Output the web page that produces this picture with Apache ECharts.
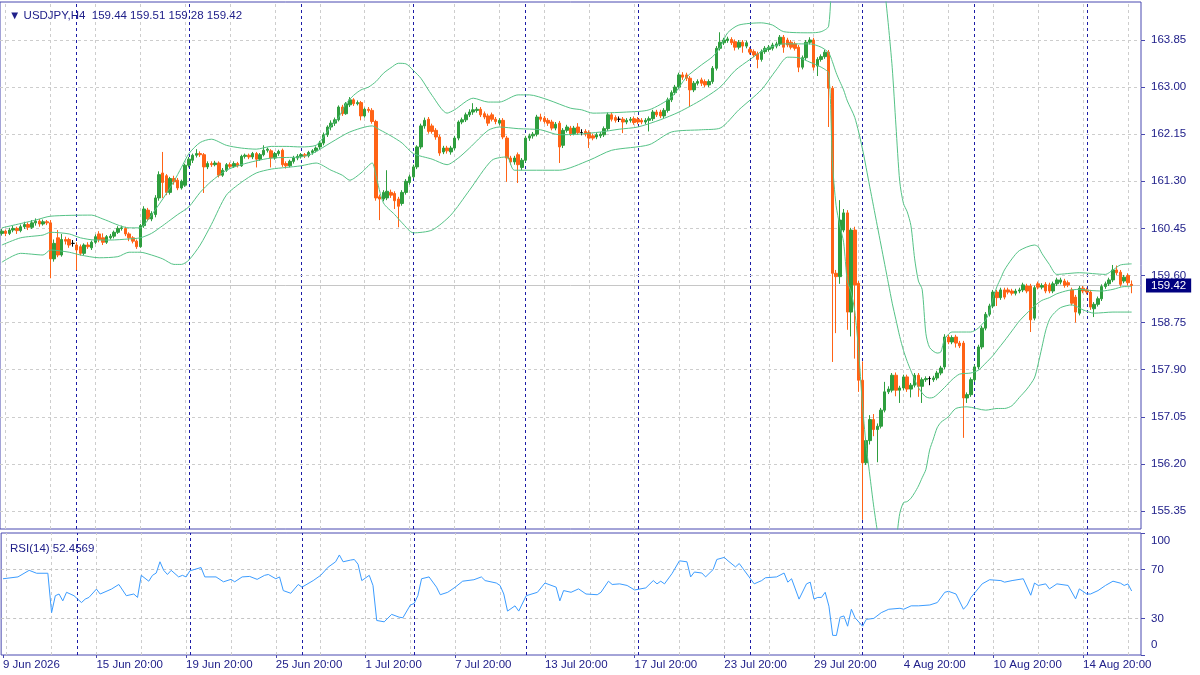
<!DOCTYPE html>
<html>
<head>
<meta charset="utf-8">
<title>USDJPY H4</title>
<script src="https://cdn.jsdelivr.net/npm/echarts@6/dist/echarts.min.js"></script>
<style>
html, body { margin: 0; padding: 0; background: #fff; }
#chart { width: 1200px; height: 675px; }
</style>
</head>
<body>
<div id="chart"></div>
<script>
// USDJPY H4 candles, oldest first
const opens = [
  160.36,160.40,160.36,160.42,160.45,160.41,160.48,160.52,160.47,160.55,
  160.58,160.53,160.57,160.55,159.90,160.28,159.97,160.25,160.25,160.18,
  160.15,160.12,160.00,160.15,160.10,160.20,160.35,160.28,160.20,160.28,
  160.31,160.38,160.45,160.45,160.35,160.28,160.22,160.12,160.50,160.78,
  160.62,160.70,161.00,161.45,161.40,161.10,161.35,161.32,161.18,161.23,
  161.59,161.68,161.77,161.80,161.78,161.56,161.62,161.60,161.63,161.41,
  161.50,161.60,161.57,161.62,161.58,161.75,161.77,161.74,161.80,161.70,
  161.78,161.86,161.85,161.72,161.80,161.86,161.62,161.58,161.66,161.72,
  161.75,161.78,161.76,161.82,161.85,161.92,161.99,162.14,162.28,162.35,
  162.41,162.64,162.52,162.68,162.77,162.70,162.72,162.48,162.60,162.58,
  162.38,161.02,160.98,161.00,161.10,161.08,160.98,160.90,161.10,161.28,
  161.38,161.56,161.92,162.30,162.42,162.30,162.22,162.10,161.83,161.90,
  161.83,161.90,162.08,162.37,162.41,162.50,162.55,162.58,162.60,162.52,
  162.48,162.50,162.42,162.35,162.40,162.08,161.72,161.65,161.78,161.55,
  161.68,162.08,162.12,162.15,162.46,162.44,162.40,162.37,162.26,162.35,
  161.95,162.22,162.26,162.16,162.28,162.18,162.20,162.18,162.12,162.10,
  162.12,162.14,162.25,162.50,162.45,162.42,162.42,162.37,162.40,162.43,
  162.42,162.40,162.37,162.40,162.43,162.55,162.55,162.48,162.58,162.77,
  162.90,163.00,163.22,163.22,163.16,162.95,163.07,163.13,163.10,163.04,
  163.10,163.34,163.70,163.80,163.84,163.86,163.82,163.72,163.81,163.74,
  163.68,163.64,163.60,163.50,163.64,163.68,163.70,163.74,163.78,163.90,
  163.85,163.81,163.78,163.72,163.36,163.53,163.81,163.85,163.38,163.50,
  163.55,163.63,162.98,159.64,159.58,160.42,160.73,158.94,160.42,159.46,
  157.71,156.22,156.62,157.00,156.82,156.88,157.17,157.50,157.53,157.80,
  157.53,157.57,157.77,157.55,157.62,157.80,157.60,157.72,157.74,157.72,
  157.75,157.84,157.95,158.49,158.40,158.49,158.38,158.38,157.39,157.45,
  157.72,157.95,158.31,158.65,158.90,159.05,159.30,159.20,159.34,159.34,
  159.32,159.28,159.32,159.34,159.41,159.41,158.83,159.45,159.39,159.44,
  159.43,159.32,159.45,159.48,159.50,159.47,159.34,159.21,158.92,159.37,
  159.34,159.30,159.00,159.08,159.18,159.40,159.45,159.52,159.70,159.66,
  159.50,159.60,159.44
];
const closes = [
  160.40,160.36,160.42,160.45,160.41,160.48,160.52,160.47,160.55,160.58,
  160.53,160.57,160.55,159.90,160.18,159.97,160.25,160.22,160.15,160.18,
  160.06,160.00,160.15,160.12,160.20,160.30,160.25,160.20,160.30,160.31,
  160.38,160.45,160.46,160.35,160.28,160.22,160.12,160.50,160.80,160.62,
  160.72,161.00,161.42,161.28,161.10,161.35,161.29,161.18,161.30,161.59,
  161.70,161.77,161.80,161.78,161.56,161.62,161.60,161.63,161.41,161.50,
  161.60,161.57,161.62,161.58,161.75,161.77,161.74,161.80,161.70,161.78,
  161.86,161.88,161.72,161.80,161.84,161.60,161.58,161.66,161.72,161.75,
  161.78,161.76,161.82,161.85,161.90,161.99,162.14,162.28,162.35,162.41,
  162.64,162.52,162.70,162.77,162.70,162.72,162.48,162.60,162.58,162.38,
  161.00,160.98,161.10,161.12,161.05,160.95,160.85,161.10,161.30,161.38,
  161.56,161.92,162.30,162.40,162.20,162.20,162.10,161.81,161.90,161.85,
  161.90,162.08,162.37,162.41,162.50,162.55,162.59,162.60,162.50,162.46,
  162.35,162.42,162.38,162.40,162.10,161.72,161.65,161.72,161.60,161.68,
  162.08,162.12,162.15,162.46,162.42,162.38,162.35,162.26,162.33,161.92,
  162.22,162.28,162.16,162.26,162.18,162.18,162.15,162.08,162.08,162.14,
  162.15,162.25,162.50,162.42,162.40,162.42,162.37,162.40,162.42,162.36,
  162.37,162.37,162.40,162.43,162.55,162.50,162.48,162.58,162.77,162.90,
  163.00,163.22,163.18,163.16,162.95,163.07,163.10,163.07,163.04,163.10,
  163.34,163.70,163.81,163.85,163.87,163.80,163.72,163.81,163.74,163.80,
  163.63,163.58,163.50,163.64,163.70,163.72,163.76,163.78,163.90,163.72,
  163.76,163.72,163.70,163.36,163.53,163.81,163.85,163.36,163.50,163.55,
  163.63,162.98,159.64,159.58,160.60,160.73,158.94,160.42,159.43,157.71,
  156.22,156.62,157.00,156.82,156.88,157.17,157.50,157.55,157.80,157.53,
  157.57,157.77,157.55,157.62,157.80,157.60,157.72,157.74,157.74,157.75,
  157.84,157.93,158.49,158.40,158.48,158.38,158.33,157.39,157.45,157.72,
  157.95,158.31,158.65,158.90,159.05,159.30,159.20,159.34,159.21,159.30,
  159.28,159.32,159.34,159.43,159.32,158.80,159.38,159.39,159.42,159.32,
  159.32,159.45,159.52,159.52,159.42,159.43,159.10,158.94,159.37,159.32,
  159.30,159.03,159.08,159.18,159.40,159.45,159.52,159.70,159.65,159.44,
  159.57,159.47,159.42
];
const lows = [
  160.32,160.31,160.33,160.38,160.35,160.38,160.44,160.42,160.44,160.50,
  160.48,160.50,160.51,159.55,159.85,159.93,159.94,160.16,160.10,160.12,
  159.70,159.96,159.97,160.08,160.06,160.17,160.20,160.15,160.17,160.25,
  160.27,160.35,160.41,160.31,160.22,160.18,160.08,160.10,160.46,160.58,
  160.58,160.65,160.95,161.00,161.05,161.06,161.24,161.14,161.15,161.20,
  161.55,161.63,161.73,161.74,161.09,161.52,161.56,161.57,161.37,161.38,
  161.47,161.53,161.54,161.55,161.56,161.71,161.70,161.70,161.55,161.67,
  161.75,161.82,161.55,161.69,161.76,161.56,161.53,161.55,161.62,161.68,
  161.71,161.72,161.73,161.78,161.82,161.88,161.95,162.10,162.22,162.30,
  162.38,162.48,162.50,162.64,162.66,162.67,162.40,162.45,162.54,162.34,
  160.95,160.60,160.94,160.96,161.00,160.80,160.47,160.86,161.06,161.24,
  161.35,161.52,161.88,162.25,162.16,162.16,162.05,161.76,161.79,161.80,
  161.78,161.86,162.04,162.33,162.37,162.46,162.50,162.54,162.46,162.42,
  162.30,162.38,162.33,162.31,162.06,161.29,161.60,161.60,161.27,161.50,
  161.64,162.03,162.07,162.11,162.38,162.34,162.30,162.22,162.22,161.63,
  161.90,162.18,162.12,162.13,162.14,162.13,162.11,161.90,162.04,162.06,
  162.08,162.10,162.21,162.38,162.36,162.37,162.17,162.33,162.36,162.32,
  162.33,162.33,162.33,162.20,162.39,162.46,162.44,162.44,162.54,162.73,
  162.86,162.96,163.13,163.11,162.64,162.91,163.03,163.02,163.00,163.00,
  163.06,163.30,163.66,163.76,163.80,163.76,163.66,163.68,163.62,163.70,
  163.59,163.54,163.34,163.46,163.60,163.64,163.66,163.70,163.74,163.62,
  163.72,163.68,163.66,163.27,163.32,163.49,163.77,163.30,163.20,163.46,
  163.51,162.28,158.04,158.56,159.45,160.38,158.62,158.50,158.10,157.50,
  155.19,156.18,156.55,156.70,156.23,156.84,157.13,157.46,157.49,157.42,
  157.30,157.53,157.50,157.40,157.58,157.41,157.30,157.68,157.62,157.68,
  157.71,157.80,157.91,158.36,158.36,158.30,158.29,156.67,157.30,157.41,
  157.68,157.91,158.27,158.61,158.86,159.01,159.05,159.16,159.17,159.26,
  159.24,159.24,159.28,159.30,159.28,158.58,158.79,159.35,159.35,159.28,
  159.28,159.28,159.41,159.44,159.38,159.39,159.06,158.75,158.88,159.28,
  159.26,158.98,158.85,159.04,159.14,159.36,159.41,159.48,159.61,159.40,
  159.46,159.42,159.28
];
const highs = [
  160.44,160.43,160.46,160.50,160.48,160.52,160.57,160.56,160.60,160.63,
  160.62,160.61,160.60,160.60,160.25,160.42,160.35,160.30,160.28,160.24,
  160.20,160.16,160.18,160.20,160.23,160.34,160.40,160.36,160.33,160.35,
  160.41,160.49,160.50,160.48,160.38,160.31,160.25,160.53,160.85,160.82,
  160.76,161.05,161.48,161.83,161.43,161.38,161.40,161.36,161.33,161.62,
  161.74,161.80,161.88,161.84,161.81,161.66,161.66,161.67,161.66,161.54,
  161.63,161.64,161.66,161.65,161.78,161.80,161.80,161.83,161.83,161.81,
  161.95,161.91,161.88,161.83,161.87,161.89,161.66,161.69,161.76,161.79,
  161.81,161.81,161.85,161.88,161.93,162.03,162.18,162.31,162.40,162.45,
  162.67,162.68,162.73,162.82,162.80,162.76,162.75,162.63,162.64,162.62,
  162.41,161.06,161.14,161.50,161.15,161.12,161.02,161.14,161.34,161.42,
  161.60,161.95,162.34,162.45,162.46,162.34,162.26,162.14,161.94,161.94,
  161.94,162.12,162.40,162.45,162.54,162.60,162.71,162.64,162.64,162.56,
  162.52,162.54,162.46,162.44,162.44,162.12,161.76,161.76,161.82,161.72,
  162.12,162.16,162.19,162.50,162.52,162.48,162.44,162.41,162.37,162.39,
  162.26,162.32,162.30,162.30,162.35,162.24,162.24,162.22,162.16,162.18,
  162.19,162.29,162.54,162.54,162.49,162.47,162.46,162.44,162.46,162.47,
  162.46,162.44,162.44,162.47,162.59,162.59,162.59,162.62,162.81,162.94,
  163.04,163.26,163.27,163.26,163.20,163.11,163.14,163.17,163.14,163.14,
  163.38,163.74,163.99,163.89,163.91,163.90,163.86,163.85,163.85,163.84,
  163.72,163.68,163.64,163.68,163.74,163.76,163.80,163.82,163.94,163.94,
  163.89,163.85,163.82,163.76,163.57,163.85,163.90,163.89,163.54,163.59,
  163.67,163.67,163.02,159.70,160.96,160.80,160.78,160.46,160.48,159.50,
  158.05,156.66,157.08,157.10,156.93,157.21,157.68,157.60,157.84,157.85,
  157.61,157.81,157.81,157.66,157.84,157.84,157.76,157.78,157.78,157.79,
  157.88,157.97,158.54,158.53,158.52,158.53,158.42,158.42,157.49,157.76,
  157.99,158.35,158.69,158.94,159.09,159.34,159.34,159.38,159.38,159.38,
  159.36,159.36,159.38,159.47,159.45,159.45,159.42,159.49,159.46,159.48,
  159.47,159.49,159.56,159.56,159.54,159.51,159.38,159.25,159.41,159.41,
  159.38,159.34,159.12,159.22,159.44,159.49,159.56,159.79,159.78,159.70,
  159.61,159.64,159.51
];

// Bollinger Bands, [bar index, price] at the bends of each curve
const bbUpper = [
  [0,160.46],[9,160.60],[13,160.67],[24,160.69],[27,160.62],[34,160.46],[37,160.46],[39,160.60],
  [43,160.98],[46,161.30],[48,161.55],[50,161.80],[53,162.00],[56,162.06],[60,161.95],[64,161.90],
  [68,161.88],[72,161.93],[76,161.93],[80,161.92],[84,161.95],[86,162.10],[88,162.30],[90,162.45],
  [92,162.70],[94,162.85],[96,162.95],[98,163.00],[100,163.10],[102,163.25],[104,163.35],[106,163.43],
  [108,163.42],[110,163.30],[112,163.16],[115,162.85],[119,162.53],[121,162.59],[126,162.80],[130,162.73],
  [133,162.73],[138,162.86],[141,162.86],[146,162.77],[152,162.62],[155,162.59],[158,162.53],[167,162.55],
  [173,162.59],[179,162.82],[183,163.18],[187,163.40],[190,163.55],[192,163.72],[194,163.98],[197,164.12],
  [203,164.16],[206,164.12],[209,164.00],[216,163.98],[219,164.00],[221,164.10],[222,165.30],[223,165.70],
  [226,165.90],[229,165.90],[230,166.10],[231,166.15],[233,165.90],[234,165.60],[235,165.25],[236,164.75],
  [237,164.10],[238,163.35],[239,162.30],[240,161.30],[241,160.90],[242,160.75],[243,160.50],[244,159.90],
  [245,159.50],[246,159.35],[247,158.55],[248,158.30],[250,158.20],[251,158.22],[252,158.45],[254,158.58],
  [259,158.58],[261,158.65],[263,158.80],[264,158.95],[265,159.20],[266,159.40],[267,159.55],[268,159.70],
  [270,159.90],[272,160.05],[276,160.15],[277,160.12],[278,160.00],[280,159.80],[282,159.62],[288,159.65],
  [295,159.62],[297,159.70],[299,159.79],[302,159.81]
];
const bbMiddle = [
  [0,160.15],[5,160.28],[11,160.33],[13,160.38],[18,160.35],[21,160.28],[25,160.24],[29,160.24],
  [34,160.26],[37,160.28],[40,160.36],[43,160.50],[45,160.60],[47,160.70],[50,160.84],[53,161.10],
  [56,161.30],[60,161.50],[64,161.60],[68,161.67],[72,161.72],[76,161.73],[80,161.74],[83,161.80],
  [88,162.00],[93,162.19],[99,162.30],[101,162.23],[104,162.12],[107,161.99],[110,161.80],[115,161.70],
  [119,161.60],[122,161.72],[125,161.90],[130,162.22],[133,162.28],[138,162.25],[144,162.23],[149,162.14],
  [154,162.15],[160,162.19],[165,162.24],[170,162.28],[176,162.41],[181,162.55],[187,162.77],[192,163.00],
  [196,163.30],[200,163.50],[204,163.68],[209,163.78],[213,163.78],[216,163.78],[219,163.72],[221,163.62],
  [222,163.46],[223,163.26],[224,163.10],[225,162.95],[226,162.75],[228,162.45],[230,161.90],[232,161.20],
  [233,160.85],[234,160.50],[235,160.15],[236,159.80],[237,159.45],[238,159.10],[239,158.80],[240,158.50],
  [241,158.25],[242,158.05],[243,157.88],[244,157.72],[245,157.58],[246,157.48],[247,157.41],[248,157.39],
  [249,157.40],[250,157.45],[252,157.58],[254,157.72],[256,157.82],[259,157.84],[261,157.89],[263,158.02],
  [265,158.16],[266,158.25],[268,158.42],[270,158.60],[272,158.78],[274,158.92],[276,159.05],[278,159.15],
  [280,159.20],[282,159.27],[285,159.33],[288,159.35],[291,159.33],[294,159.32],[297,159.35],[300,159.40],
  [302,159.40]
];
const bbLower = [
  [0,159.84],[5,160.00],[11,159.97],[13,160.06],[18,160.02],[21,159.97],[26,159.92],[31,159.94],
  [34,160.02],[37,160.02],[40,159.97],[43,159.90],[46,159.80],[48,159.80],[50,159.88],[53,160.15],
  [56,160.52],[60,161.05],[64,161.28],[68,161.45],[72,161.52],[76,161.55],[80,161.58],[84,161.63],
  [88,161.50],[91,161.41],[93,161.32],[96,161.45],[99,161.63],[100,161.40],[102,160.91],[105,160.70],
  [107,160.55],[110,160.37],[115,160.42],[120,160.69],[125,161.14],[131,161.68],[135,161.74],[137,161.50],
  [149,161.50],[157,161.68],[163,161.86],[173,161.96],[179,162.19],[187,162.23],[192,162.26],[197,162.59],
  [203,162.95],[207,163.31],[210,163.54],[213,163.53],[216,163.45],[219,163.36],[221,163.25],[222,161.66],
  [223,160.86],[224,160.50],[225,160.20],[226,159.50],[227,159.30],[228,158.95],[229,158.25],[230,157.30],
  [231,156.55],[232,156.00],[233,155.46],[234,155.00],[235,154.65],[236,154.47],[237,154.50],[238,154.60],
  [239,154.80],[240,155.30],[241,155.50],[242,155.52],[243,155.58],[244,155.68],[245,155.80],[246,155.95],
  [247,156.10],[248,156.45],[249,156.65],[250,156.85],[251,156.95],[252,157.00],[253,157.05],[255,157.20],
  [258,157.23],[263,157.17],[266,157.20],[268,157.20],[270,157.25],[272,157.40],[274,157.55],[276,157.75],
  [277,158.00],[278,158.30],[279,158.60],[280,158.80],[281,158.90],[283,159.02],[286,159.07],[289,158.98],
  [292,158.92],[297,158.94],[302,158.94]
];

// RSI(14), [bar index, value]
const rsiPts = [
  [0,62.5],[4,64],[7,69.4],[9,67],[12,67],[13,34.7],[14,48.6],[15,50],[16,44.4],[17,51.4],
  [19,48.6],[20,45.8],[21,43],[22,45.8],[23,47.2],[25,54],[26,50],[29,54],[31,57.8],[33,48.6],
  [35,50],[36,47.2],[37,65.3],[39,60.5],[40,65.3],[41,67.2],[42,76.4],[43,69.4],[44,66],[45,69.4],
  [47,64],[48,65.3],[49,64],[50,69],[53,71.7],[54,64],[57,64],[59,60],[61,62],[62,60],
  [64,64],[66,64.4],[68,62],[70,65.3],[71,66],[73,62.5],[74,64],[75,52.8],[77,50.6],[79,57.8],
  [80,55.6],[83,61],[85,65.3],[87,72],[89,76.4],[90,82],[91,76.4],[93,77.8],[94,78.3],[95,74.4],
  [96,61],[98,65.3],[99,57],[100,28.3],[102,27.2],[104,33.3],[106,31],[107,30.5],[109,41],[110,42.2],
  [111,48.6],[112,62.5],[114,64],[116,55.6],[117,49.4],[119,51.4],[121,55.6],[123,60.5],[126,61.7],[128,64],
  [129,61],[132,59],[133,57],[134,50],[135,36],[137,40.3],[138,36],[140,48.6],[143,51.4],[145,59],
  [148,55.6],[149,44.4],[150,52.8],[152,51.4],[154,54.2],[156,50],[159,49.4],[160,51.4],[162,60.5],[163,57.8],
  [165,58.3],[167,57],[169,53.3],[172,55],[174,61],[175,58.3],[176,60.5],[177,58.3],[179,66.7],[181,77.2],
  [183,76.4],[184,64],[185,68],[187,67.2],[188,64],[190,70],[191,78.3],[193,80],[194,77.2],[196,72.2],
  [197,75],[198,70.8],[200,62.5],[201,58.3],[203,61],[204,63.3],[207,64],[209,67.2],[210,59.7],[211,62.5],
  [213,45.8],[215,58.3],[216,59.7],[217,45.8],[218,47.2],[219,47.2],[220,51.4],[221,40],[222,16.1],[223,16],
  [224,31],[225,32],[226,23.6],[227,37.5],[228,30.5],[230,23.6],[231,29.2],[233,30],[235,34.7],[237,37.5],
  [240,38.3],[241,37.5],[243,40.3],[245,40.3],[248,41],[250,43],[252,51.4],[253,52.2],[255,50],[257,37.5],
  [258,41],[259,47.2],[262,58.3],[264,61.7],[267,61],[268,59.7],[270,61],[273,62.5],[275,49],[276,59],
  [277,57],[279,58.3],[280,54.2],[282,58.3],[285,57],[287,46],[288,54.2],[290,50],[291,50],[293,52.8],
  [295,57],[297,60.5],[299,58.9],[300,57],[301,58.3],[302,52.46]
];
const rsiValue = 52.4569;

// axis ticks and labels
const priceTicks = [155.35,156.20,157.05,157.90,158.75,159.60,160.45,161.30,162.15,163.00,163.85];
const rsiTicks = [0, 30, 70, 100];
const rsiLevels = [30, 70];
const dateLabels = ['9 Jun 2026','15 Jun 20:00','19 Jun 20:00','25 Jun 20:00','1 Jul 20:00','7 Jul 20:00',
  '13 Jul 20:00','17 Jul 20:00','23 Jul 20:00','29 Jul 20:00','4 Aug 20:00','10 Aug 20:00','14 Aug 20:00'];
const dateLabelIdx = [0, 25, 49, 73, 97, 121, 145, 169, 193, 217, 241, 265, 289];
const weekStarts = [20, 50, 80, 110, 140, 170, 200, 230, 260, 290];

const FONT = "'Liberation Sans', Arial, sans-serif";
const INK = '#20208a';
const FRAME = '#4848b0';
const BULL = '#2e9e3e';
const BEAR = '#ff6316';
const BAND = '#55c286';

const slots = 305; // two empty slots on the right, like the terminal's chart shift
const cats = [];
for (let i = 0; i < slots; i++) cats.push(i);
const gridCols = [];
for (let i = 1; i < slots; i += 12) gridCols.push(i);

const candles = opens.map((o, i) => [o, closes[i], lows[i], highs[i]]);
const last = opens.length - 1;
const header = '\u25BC USDJPY,H4  ' + [opens[last], highs[last], lows[last], closes[last]]
  .map(v => v.toFixed(2)).join(' ');

const dash = { type: [3, 3], width: 1 };
const vLines = gridCols.map(i => ({ xAxis: i, lineStyle: Object.assign({ color: '#cdcdcd' }, dash) }))
  .concat(weekStarts.map(i => ({ xAxis: i, lineStyle: Object.assign({ color: '#1c1ca6' }, dash) })));

const chart = echarts.init(document.getElementById('chart'));

const isDateTick = idx => dateLabelIdx.indexOf(idx) >= 0;

const option = {
  animation: false,
  backgroundColor: '#ffffff',
  title: [
    { text: header, left: 4, top: 5,
      textStyle: { fontFamily: FONT, fontSize: 11.5, fontWeight: 'normal', color: INK } },
    { text: 'RSI(14) ' + rsiValue, left: 5, top: 538,
      textStyle: { fontFamily: FONT, fontSize: 11.5, fontWeight: 'normal', color: INK } }
  ],
  grid: [
    { left: 0, top: 2, width: 1141, height: 527, show: true, borderColor: FRAME, borderWidth: 1 },
    { left: 0, top: 533, width: 1141, height: 122, show: true, borderColor: FRAME, borderWidth: 1 }
  ],
  xAxis: [
    { type: 'category', gridIndex: 0, data: cats, boundaryGap: true,
      axisLine: { show: false }, axisTick: { show: false }, axisLabel: { show: false }, splitLine: { show: false } },
    { type: 'category', gridIndex: 1, data: cats, boundaryGap: true,
      axisLine: { show: false },
      axisTick: { show: true, alignWithLabel: true, interval: isDateTick, length: 3, lineStyle: { color: FRAME } },
      axisLabel: {
        interval: isDateTick,
        formatter: (v, idx) => { const k = dateLabelIdx.indexOf(idx); return k >= 0 ? dateLabels[k] : ''; },
        align: 'left', margin: 4, color: INK, fontFamily: FONT, fontSize: 11.5, hideOverlap: false
      },
      splitLine: { show: false } }
  ],
  yAxis: [
    { type: 'value', gridIndex: 0, position: 'right', min: 155.025, max: 164.536, scale: true,
      axisLine: { show: false }, splitLine: { show: false },
      axisTick: { show: true, customValues: priceTicks, length: 4, lineStyle: { color: FRAME } },
      axisLabel: { customValues: priceTicks, formatter: v => v.toFixed(2), margin: 10,
        color: INK, fontFamily: FONT, fontSize: 11.5 } },
    { type: 'value', gridIndex: 1, position: 'right', min: 0, max: 100,
      axisLine: { show: false }, splitLine: { show: false },
      axisTick: { show: true, customValues: rsiTicks, length: 4, lineStyle: { color: FRAME } },
      axisLabel: { customValues: rsiTicks, margin: 10, color: INK, fontFamily: FONT, fontSize: 11.5,
        formatter: v => v === 100 ? '{top|100}' : (v === 0 ? '{bot|0}' : String(v)),
        rich: {
          top: { padding: [16, 0, 0, 0], color: INK, fontFamily: FONT, fontSize: 11.5 },
          bot: { padding: [0, 0, 20, 0], color: INK, fontFamily: FONT, fontSize: 11.5 }
        } } }
  ],
  series: [
    {
      name: 'USDJPY', type: 'candlestick', xAxisIndex: 0, yAxisIndex: 0,
      data: candles, barWidth: 3, z: 3,
      itemStyle: { color: BULL, color0: BEAR, borderColor: BULL, borderColor0: BEAR,
        borderColorDoji: '#000000', borderWidth: 1 },
      markLine: {
        silent: true, z: 1, symbol: ['none', 'none'], animation: false,
        label: { show: false },
        data: vLines
          .concat(priceTicks.map(v => ({ yAxis: v, lineStyle: Object.assign({ color: '#cdcdcd' }, dash) })))
          .concat([{
            yAxis: closes[last],
            lineStyle: { color: '#c6c6c6', type: 'solid', width: 1 },
            label: { show: true, position: 'end', distance: 5, formatter: p => p.value.toFixed(2),
              backgroundColor: '#000080', color: '#ffffff', padding: [1, 5, 1, 5],
              fontFamily: FONT, fontSize: 11.5 }
          }])
      }
    },
    { name: 'BB upper', type: 'line', xAxisIndex: 0, yAxisIndex: 0, data: bbUpper, z: 4,
      showSymbol: false, smooth: 0.25, silent: true, lineStyle: { color: BAND, width: 1 } },
    { name: 'BB middle', type: 'line', xAxisIndex: 0, yAxisIndex: 0, data: bbMiddle, z: 4,
      showSymbol: false, smooth: 0.25, silent: true, lineStyle: { color: BAND, width: 1 } },
    { name: 'BB lower', type: 'line', xAxisIndex: 0, yAxisIndex: 0, data: bbLower, z: 4,
      showSymbol: false, smooth: 0.25, silent: true, lineStyle: { color: BAND, width: 1 } },
    {
      name: 'RSI', type: 'line', xAxisIndex: 1, yAxisIndex: 1, data: rsiPts, z: 3,
      showSymbol: false, silent: true, lineStyle: { color: '#3b9cff', width: 1 },
      markLine: {
        silent: true, z: 1, symbol: ['none', 'none'], animation: false,
        label: { show: false },
        data: vLines.concat(rsiLevels.map(v => ({ yAxis: v, lineStyle: Object.assign({ color: '#c4c4c4' }, dash) })))
      }
    }
  ]
};

chart.setOption(option);
window.addEventListener('resize', function () { chart.resize(); });
</script>
</body>
</html>
